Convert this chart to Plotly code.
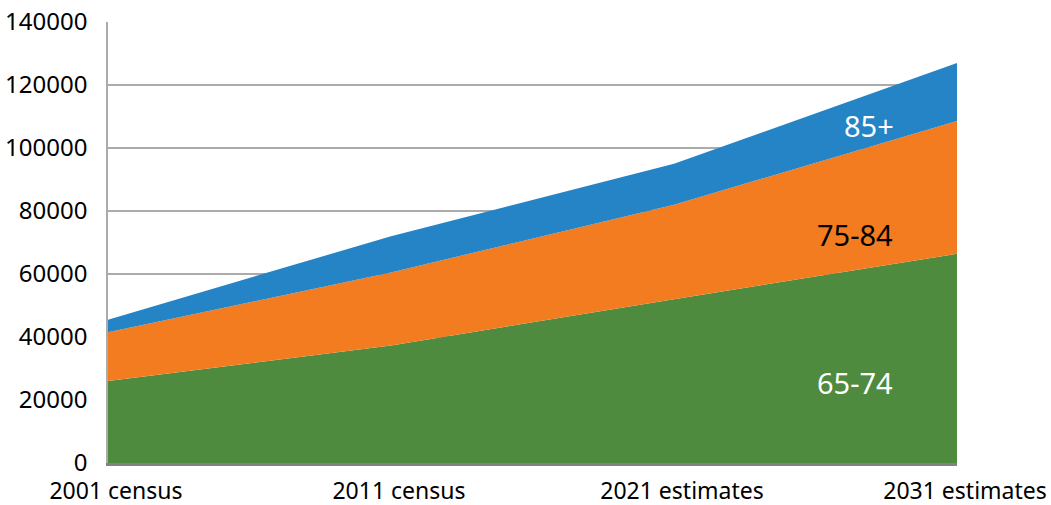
import plotly.graph_objects as go

categories = ["2001 census", "2011 census", "2021 estimates", "2031 estimates"]
age_65_74 = [26000, 37300, 52000, 66400]
age_75_84 = [15500, 23200, 30000, 42200]
age_85_plus = [4000, 11500, 13000, 18400]

series = [
    ("65-74", age_65_74, "#4E8B3F"),
    ("75-84", age_75_84, "#F37B20"),
    ("85+", age_85_plus, "#2484C6"),
]

fig = go.Figure()
for name, vals, col in series:
    fig.add_trace(go.Scatter(
        x=categories, y=vals, name=name, mode="lines",
        stackgroup="one", line=dict(width=0, color=col),
        fillcolor=col, hoverinfo="skip",
    ))

labels = [
    ("85+", categories[2], 0.69, 107300, "white"),
    ("75-84", categories[2], 0.64, 72400, "black"),
    ("65-74", categories[2], 0.64, 25700, "white"),
]
for txt, cat, off, yv, col in labels:
    fig.add_annotation(
        x=categories.index(cat) + off, y=yv, xref="x", yref="y",
        text=txt, showarrow=False,
        font=dict(family="Noto Sans", size=29, color=col),
    )

fig.update_layout(
    width=1051, height=505,
    margin=dict(l=108, r=94, t=22, b=42),
    paper_bgcolor="white", plot_bgcolor="white",
    showlegend=False,
    font=dict(family="Noto Sans", size=24, color="black"),
)
fig.update_xaxes(
    type="category", range=[0, 3], automargin=False,
    showgrid=False, showline=True, linecolor="#828282", linewidth=2.5,
    ticks="", tickfont=dict(size=23), ticklabelstandoff=6,
    ticklabelshift=8,
)
fig.update_yaxes(
    range=[0, 140000], dtick=20000, tickformat="d", automargin=False,
    showgrid=True, gridcolor="#ABABAB", gridwidth=1.5,
    showline=True, linecolor="#ABABAB", linewidth=1.5,
    zeroline=False, ticks="", ticklabelstandoff=14,
    tickfont=dict(size=24),
    layer="below traces",
)
fig.write_html(
    "out.html",
    config={"displayModeBar": False},
    post_script="document.body.style.margin='0';",
)
